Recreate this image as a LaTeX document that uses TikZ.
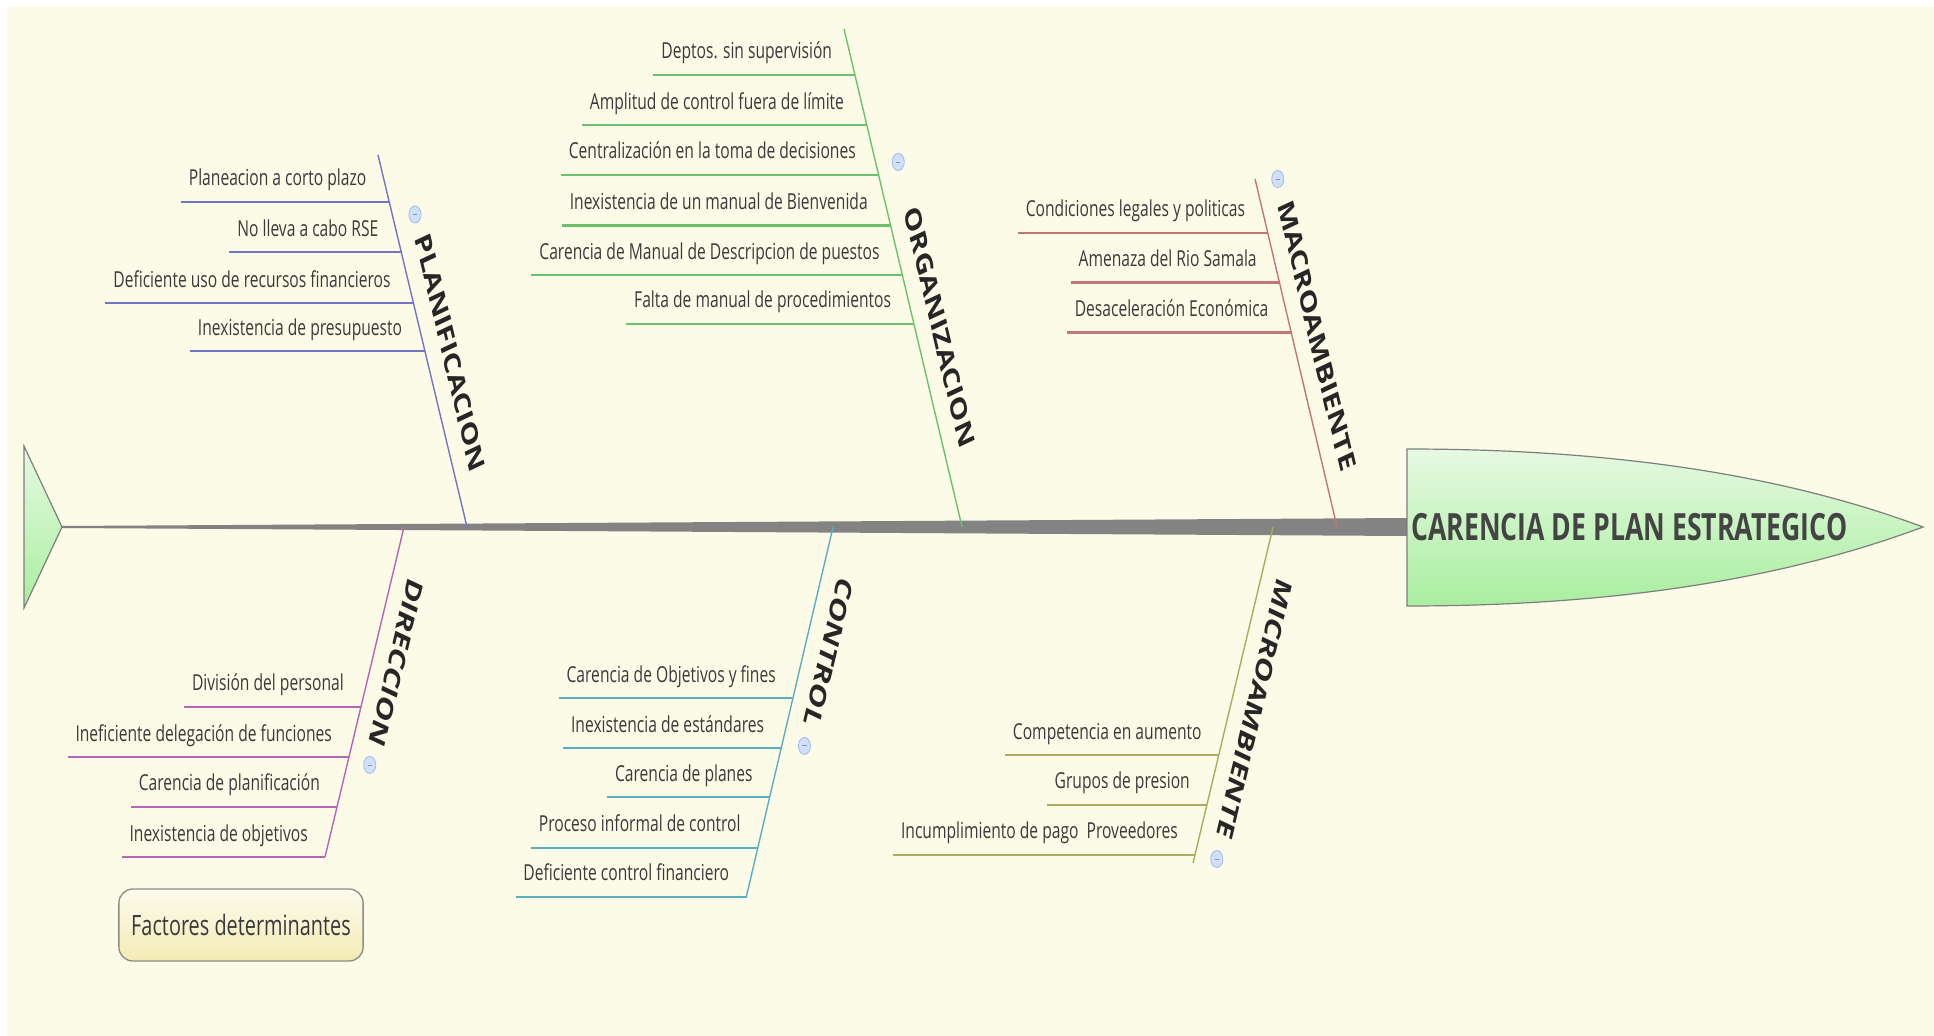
\documentclass[tikz,border=0pt]{standalone}
\usepackage{fontspec}
\setmainfont{Open Sans}
\usetikzlibrary{calc}

\definecolor{bgcream}{HTML}{FCFBE8}
\definecolor{spinegray}{HTML}{838383}
\definecolor{fishgreen}{HTML}{A9EE9F}
\definecolor{fishlight}{HTML}{E6F9E2}
\definecolor{fishedge}{HTML}{7E7E7E}
\definecolor{headtext}{HTML}{444444}
\definecolor{plancol}{HTML}{7474C6}
\definecolor{orgcol}{HTML}{6CC26C}
\definecolor{macrocol}{HTML}{C47676}
\definecolor{dircol}{HTML}{B766B7}
\definecolor{ctrlcol}{HTML}{5AAFBF}
\definecolor{microcol}{HTML}{ABAB62}
\definecolor{causetext}{HTML}{3A3A3A}
\definecolor{labeltext}{HTML}{262626}
\definecolor{btnfill}{HTML}{D2DFF8}
\definecolor{btnedge}{HTML}{A2BAEE}
\definecolor{boxedge}{HTML}{8C8C84}
\definecolor{boxtop}{HTML}{FCFBEE}
\definecolor{boxbottom}{HTML}{F3EBB4}

\tikzset{
  bone/.style={line width=1.4pt},
  sub/.style={line width=2.6pt},
  cause/.style={font=\fontsize{22}{26}\selectfont, text=causetext, inner xsep=11pt, inner ysep=0pt, anchor=base east, yshift=16pt},
  upper/.style={cause, xshift=-21pt},
  lower/.style={cause, xshift=-13pt},
  bonelabel/.style={rotate=#1, anchor=base, inner sep=0pt, yshift=22pt, font=\bfseries\fontsize{32}{36}\selectfont, text=labeltext},
  collapse/.style={circle, minimum size=17pt, inner sep=0pt, line width=0.8pt, draw=btnedge, fill=btnfill, xshift=32pt,
    path picture={\draw[btnedge!80!black, line width=0.8pt] ([xshift=-3pt]path picture bounding box.center) -- ([xshift=3pt]path picture bounding box.center);}},
}

\begin{document}
\begin{tikzpicture}[x=1.40845pt, y=-1pt, xscale=0.71, every node/.append style={transform shape}]
\useasboundingbox (0,0) rectangle (1934,1036);
\fill[bgcream] (7,7) rectangle (1934,1036);

% spine, tail and head
\coordinate (tail) at (62,527);
\coordinate (head) at (1407,527);
\fill[spinegray] ($(tail)+(0,-1)$) -- ($(head)+(0,-9)$) -- ($(head)+(0,9)$) -- ($(tail)+(0,1)$) -- cycle;
\draw[fishedge, line width=1.2pt, top color=fishlight, bottom color=fishgreen] (24,446) -- (tail) -- (24,608) -- cycle;
\draw[fishedge, line width=1.2pt, top color=fishlight, bottom color=fishgreen] (head) -- (1407,449) .. controls (1650,449) and (1810,485) .. (1923,527) .. controls (1810,569) and (1650,606) .. (1407,606) -- cycle;
\node[anchor=west, inner xsep=6pt, font=\bfseries\fontsize{37.5}{42}\selectfont, text=headtext] (effect) at (head) {CARENCIA DE PLAN ESTRATEGICO};

% planificacion
\coordinate (plan-top) at (378,155);
\coordinate (plan-foot) at (467,527);
\draw[bone, plancol] (plan-top) -- (plan-foot)
  node[bonelabel=-71.5, pos=.56] (plan) {PLANIFICACION}
  node[collapse, pos=.16] (plan-btn) {};
\foreach \p/\txt [count=\i] in {.126/Planeacion a corto plazo, .261/No lleva a cabo RSE, .398/Deficiente uso de recursos financieros, .527/Inexistencia de presupuesto}{
  \path (plan-top) -- coordinate[pos=\p] (plan-p\i) (plan-foot);
  \node[upper] (plan-c\i) at (plan-p\i) {\txt};
  \draw[sub, plancol] (plan-p\i) -- (plan-p\i -| plan-c\i.west);
}

% organizacion
\coordinate (org-top) at (844,29);
\coordinate (org-foot) at (962,527);
\draw[bone, orgcol] (org-top) -- (org-foot)
  node[bonelabel=-71.5, pos=.62] (org) {ORGANIZACION}
  node[collapse, pos=.267] (org-btn) {};
\foreach \p/\txt [count=\i] in {.092/Deptos. sin supervisión, .193/Amplitud de control fuera de límite, .293/Centralización en la toma de decisiones, .394/Inexistencia de un manual de Bienvenida, .494/Carencia de Manual de Descripcion de puestos, .592/Falta de manual de procedimientos}{
  \path (org-top) -- coordinate[pos=\p] (org-p\i) (org-foot);
  \node[upper] (org-c\i) at (org-p\i) {\txt};
  \draw[sub, orgcol] (org-p\i) -- (org-p\i -| org-c\i.west);
}

% macroambiente
\coordinate (macro-top) at (1255,179);
\coordinate (macro-foot) at (1337,527);
\draw[bone, macrocol] (macro-top) -- (macro-foot)
  node[bonelabel=-71.5, pos=.48] (macro) {MACROAMBIENTE}
  node[collapse, pos=0] (macro-btn) {};
\foreach \p/\txt [count=\i] in {.155/Condiciones legales y politicas, .298/Amenaza del Rio Samala, .441/Desaceleración Económica}{
  \path (macro-top) -- coordinate[pos=\p] (macro-p\i) (macro-foot);
  \node[upper] (macro-c\i) at (macro-p\i) {\txt};
  \draw[sub, macrocol] (macro-p\i) -- (macro-p\i -| macro-c\i.west);
}

% direccion
\coordinate (dir-top) at (404,527);
\coordinate (dir-end) at (325,857);
\draw[bone, dircol] (dir-top) -- (dir-end)
  node[bonelabel=-108.5, pos=.38] (dir) {DIRECCION}
  node[collapse, pos=.721] (dir-btn) {};
\foreach \p/\txt [count=\i] in {.545/División del personal, .697/Ineficiente delegación de funciones, .848/Carencia de planificación, 1/Inexistencia de objetivos}{
  \path (dir-top) -- coordinate[pos=\p] (dir-p\i) (dir-end);
  \node[lower] (dir-c\i) at (dir-p\i) {\txt};
  \draw[sub, dircol] (dir-p\i) -- (dir-p\i -| dir-c\i.west);
}

% control
\coordinate (ctrl-top) at (833,527);
\coordinate (ctrl-end) at (746,898);
\draw[bone, ctrlcol] (ctrl-top) -- (ctrl-end)
  node[bonelabel=-108.5, pos=.31] (ctrl) {CONTROL}
  node[collapse, pos=.59] (ctrl-btn) {};
\foreach \p/\txt [count=\i] in {.461/Carencia de Objetivos y fines, .596/Inexistencia de estándares, .728/Carencia de planes, .865/Proceso informal de control, .997/Deficiente control financiero}{
  \path (ctrl-top) -- coordinate[pos=\p] (ctrl-p\i) (ctrl-end);
  \node[lower] (ctrl-c\i) at (ctrl-p\i) {\txt};
  \draw[sub, ctrlcol] (ctrl-p\i) -- (ctrl-p\i -| ctrl-c\i.west);
}

% microambiente
\coordinate (micro-top) at (1273,527);
\coordinate (micro-end) at (1193,863);
\draw[bone, microcol] (micro-top) -- (micro-end)
  node[bonelabel=-108.5, pos=.51] (micro) {MICROAMBIENTE}
  node[collapse, pos=.988] (micro-btn) {};
\foreach \p/\txt [count=\i] in {.679/Competencia en aumento, .827/Grupos de presion, .976/Incumplimiento de pago~ Proveedores}{
  \path (micro-top) -- coordinate[pos=\p] (micro-p\i) (micro-end);
  \node[lower] (micro-c\i) at (micro-p\i) {\txt};
  \draw[sub, microcol] (micro-p\i) -- (micro-p\i -| micro-c\i.west);
}

% legend box
\node[draw=boxedge, line width=1.3pt, rounded corners=14pt, top color=boxtop, bottom color=boxbottom, minimum width=344pt, minimum height=72pt, font=\fontsize{28}{32}\selectfont, text=causetext] (legend) at (241,925) {Factores determinantes};
\end{tikzpicture}
\end{document}
